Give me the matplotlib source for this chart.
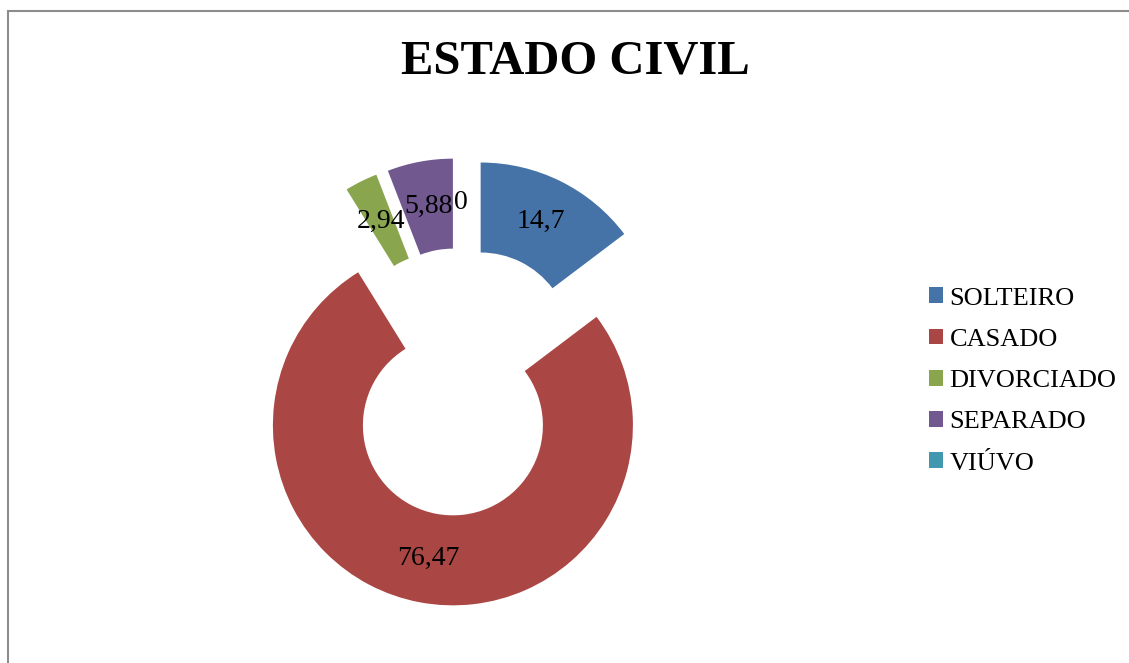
import matplotlib.pyplot as plt
import numpy as np
from matplotlib.patches import Rectangle

# dados
categorias = ["SOLTEIRO", "CASADO", "DIVORCIADO", "SEPARADO", "VIÚVO"]
valores = [14.7, 76.47, 2.94, 5.88, 0]
rotulos = ["14,7", "76,47", "2,94", "5,88", "0"]
cores = ["#4572A7", "#AA4643", "#89A54E", "#71588F", "#4198AF"]

plt.rcParams["font.family"] = ["Liberation Serif", "DejaVu Serif"]

fig = plt.figure(figsize=(11.29, 6.63), dpi=100)

# eixo do donut: 180 px por unidade, centro em (461, 382)
L = 1.5
ax = fig.add_axes([191 / 1129, 11 / 663, 540 / 1129, 540 / 663])

explode = [0.245] * len(valores)
wedges, _ = ax.pie(
    valores,
    colors=cores,
    explode=explode,
    startangle=90,
    counterclock=False,
    radius=1.0,
    wedgeprops=dict(width=0.5, linewidth=0),
)
for w in wedges:
    w.set_clip_on(False)

# pie() mexe nos limites, entao define depois
ax.set_xlim(-L, L)
ax.set_ylim(-L, L)
ax.set_aspect("equal")
ax.axis("off")

# rótulos de dados no meio do anel
for w, txt in zip(wedges, rotulos):
    ang = np.deg2rad((w.theta1 + w.theta2) / 2)
    cx, cy = w.center
    ax.text(
        cx + 0.75 * np.cos(ang),
        cy + 0.75 * np.sin(ang),
        txt,
        ha="center",
        va="center",
        fontsize=20,
        color="black",
    )

# título
fig.text(575 / 1129, 1 - 62 / 663, "ESTADO CIVIL", ha="center", va="center",
         fontsize=35, fontweight="bold")

# legenda
fig.legend(
    wedges,
    categorias,
    loc="center left",
    bbox_to_anchor=(918 / 1129, 1 - 381 / 663),
    frameon=False,
    fontsize=19,
    handlelength=0.55,
    handleheight=0.55,
    handletextpad=0.25,
    labelspacing=0.72,
    borderaxespad=0,
)

# moldura
fig.add_artist(Rectangle((7.5 / 1129, -0.1), 1.2, 1.1 - 11.5 / 663,
                         transform=fig.transFigure, fill=False,
                         edgecolor="#8c8c8c", linewidth=1.5))

plt.savefig("out.png", dpi=100)
